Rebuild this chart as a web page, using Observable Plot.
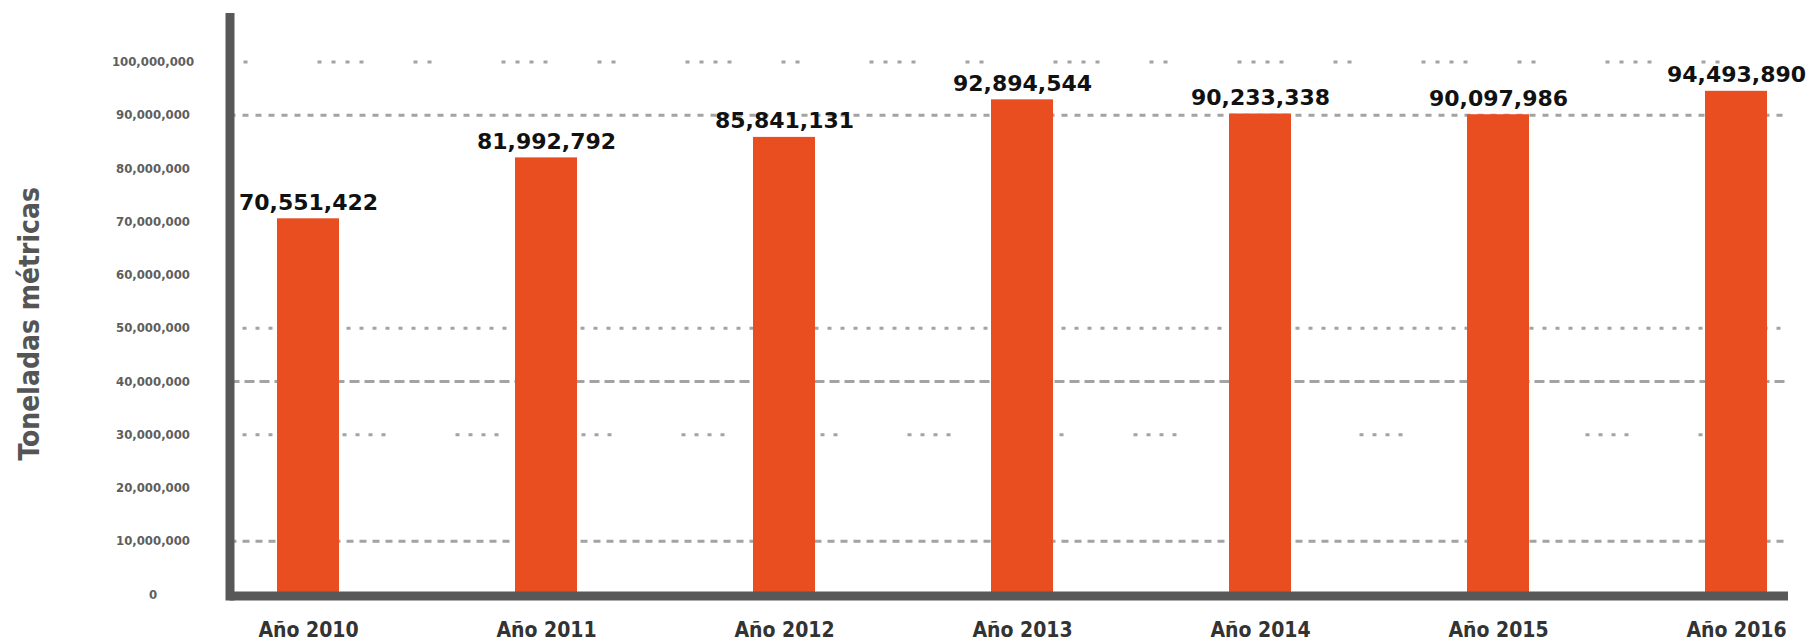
<!DOCTYPE html>
<html><head><meta charset="utf-8">
<script src="https://cdn.jsdelivr.net/npm/d3@7"></script>
<script src="https://cdn.jsdelivr.net/npm/@observablehq/plot@0.6"></script>
<style>body{margin:0;background:#fff}</style>
</head><body><div id="chart"></div>
<script>
const years = ["Año 2010", "Año 2011", "Año 2012", "Año 2013", "Año 2014", "Año 2015", "Año 2016"];
const values = [70551422, 81992792, 85841131, 92894544, 90233338, 90097986, 94493890];
const yTicks = [0, 10e6, 20e6, 30e6, 40e6, 50e6, 60e6, 70e6, 80e6, 90e6, 100e6];
const gridValues = [100e6, 90e6, 50e6, 40e6, 30e6, 10e6];
const yTitle = "Toneladas métricas";

// styles (kept apart from data)
const gridDash = {
  100e6: "4,10,4,70,4,10,4,10,4,10,4,50",
  90e6: "6,7",
  50e6: "4,9",
  40e6: "10,5",
  30e6: "4,9,4,9,4,9,4,70",
  10e6: "7,6"
};

const data = years.map((y, i) => ({year: y, value: values[i]}));
const fmt = d3.format(",");

const chart = Plot.plot({
  width: 1808, height: 642,
  marginLeft: 229.5, marginRight: 20, marginTop: 17, marginBottom: 46.5,
  style: {background: "white", fontFamily: "DejaVu Sans"},
  x: {domain: years, range: [234, 1809], paddingInner: 0.74, paddingOuter: 0.1763, align: 0.5, axis: null},
  y: {domain: [0, 100e6], range: [594, 61.5], axis: null},
  marks: [
    ...gridValues.map(v => Plot.ruleY([v], {stroke: "#a3a3a3", strokeWidth: 3, strokeDasharray: gridDash[v]})),
    Plot.barY(data, {x: "year", y: "value", fill: "#E84E1F"}),
    Plot.frame({anchor: "left", stroke: "#585858", strokeWidth: 9}),
    Plot.ruleY([0], {stroke: "#585858", strokeWidth: 9, dy: 1.5}),
    Plot.axisY({ticks: yTicks, tickSize: 0, tickPadding: 77, textAnchor: "middle", tickFormat: fmt,
      fontSize: 13, fontWeight: "bold", color: "#5e5e5e", fontFamily: "DejaVu Sans Condensed", label: null}),
    Plot.axisX({tickSize: 0, tickPadding: 26, fontSize: 21, fontWeight: "bold", color: "#333",
      fontFamily: "DejaVu Sans Condensed", label: null}),
    Plot.text(data, {x: "year", y: "value", text: d => fmt(d.value), lineAnchor: "bottom", dy: -9,
      fontSize: 22, fontWeight: "bold", fill: "#111"}),
    Plot.text([yTitle], {text: d => d, frameAnchor: "left", textAnchor: "middle", rotate: -90, dx: -200, dy: 17,
      fontSize: 28, fontWeight: "bold", fill: "#555", fontFamily: "DejaVu Sans Condensed"})
  ]
});
document.getElementById("chart").append(chart);
</script>
</body></html>
